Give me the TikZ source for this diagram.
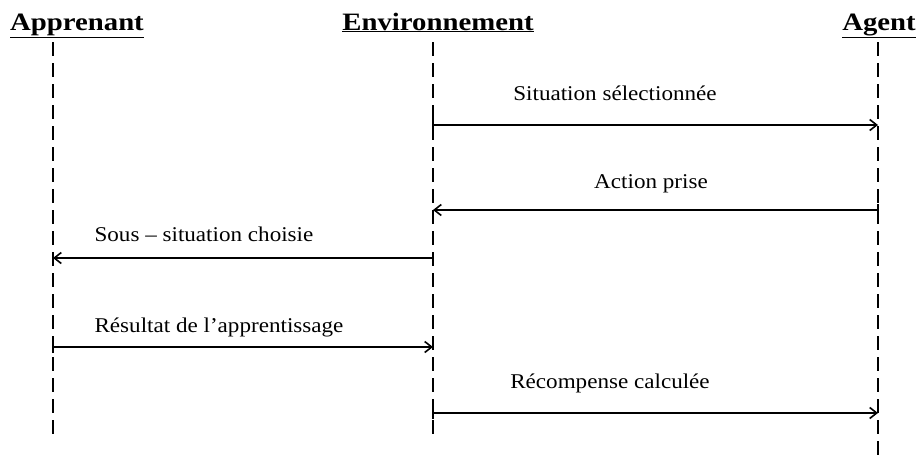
\documentclass[tikz,border=0pt]{standalone}
\usepackage{fontspec}
\setmainfont{Liberation Serif}
\newfontfamily\headfont[FakeStretch=1.15]{Liberation Serif}
\newfontfamily\lblfont[FakeStretch=1.1]{Liberation Serif}
\usetikzlibrary{arrows.meta}
\begin{document}
\begin{tikzpicture}[x=1pt,y=-1pt,
  head/.style={font=\headfont\fontsize{25}{28}\selectfont\bfseries, inner sep=0pt, anchor=base},
  lbl/.style={font=\lblfont\fontsize{21}{24}\selectfont, inner sep=0pt, anchor=base},
  life/.style={line width=1.3pt, dash pattern=on 14pt off 7pt},
  msg/.style={line width=2pt, -{Straight Barb[length=7pt,width=11pt,line width=1.6pt]}}]
\useasboundingbox (0,0) rectangle (921,458);
% headers
\node[head] (hA) at (77,30) {\underline{Apprenant}};
\node[head] (hE) at (438,30) {\underline{Environnement}};
\node[head] (hG) at (879,30) {\underline{Agent}};
% lifelines
\coordinate (A0) at (53,42); \coordinate (A1) at (53,440);
\coordinate (E0) at (433,42); \coordinate (E1) at (433,437);
\coordinate (G0) at (878,42); \coordinate (G1) at (878,458);
\draw[life] (A0) -- (A1);
\draw[life] (E0) -- (E1);
\draw[life] (G0) -- (G1);
% message end points
\coordinate (e1) at (433,125); \coordinate (g1) at (878,125);
\coordinate (g2) at (878,210); \coordinate (e2) at (433,210);
\coordinate (e3) at (433,258); \coordinate (a3) at (53,258);
\coordinate (a4) at (53,347); \coordinate (e4) at (433,347);
\coordinate (e5) at (433,413); \coordinate (g5) at (878,413);
\draw[msg] (e1) -- (g1);
\draw[msg] (g2) -- (e2);
\draw[msg] (e3) -- (a3);
\draw[msg] (a4) -- (e4);
\draw[msg] (e5) -- (g5);
% ticks at starts
\foreach \p in {e1,g2,e3,a4,e5}{\draw[line width=1.4pt] ([yshift=-6pt]\p) -- ([yshift=6pt]\p);}
% labels
\node[lbl] (l1) at (615,100) {Situation sélectionnée};
\node[lbl] (l2) at (651,188) {Action prise};
\node[lbl] (l3) at (204,241) {Sous – situation choisie};
\node[lbl] (l4) at (219,332) {Résultat de l’apprentissage};
\node[lbl] (l5) at (610,388) {Récompense calculée};
\end{tikzpicture}
\end{document}
